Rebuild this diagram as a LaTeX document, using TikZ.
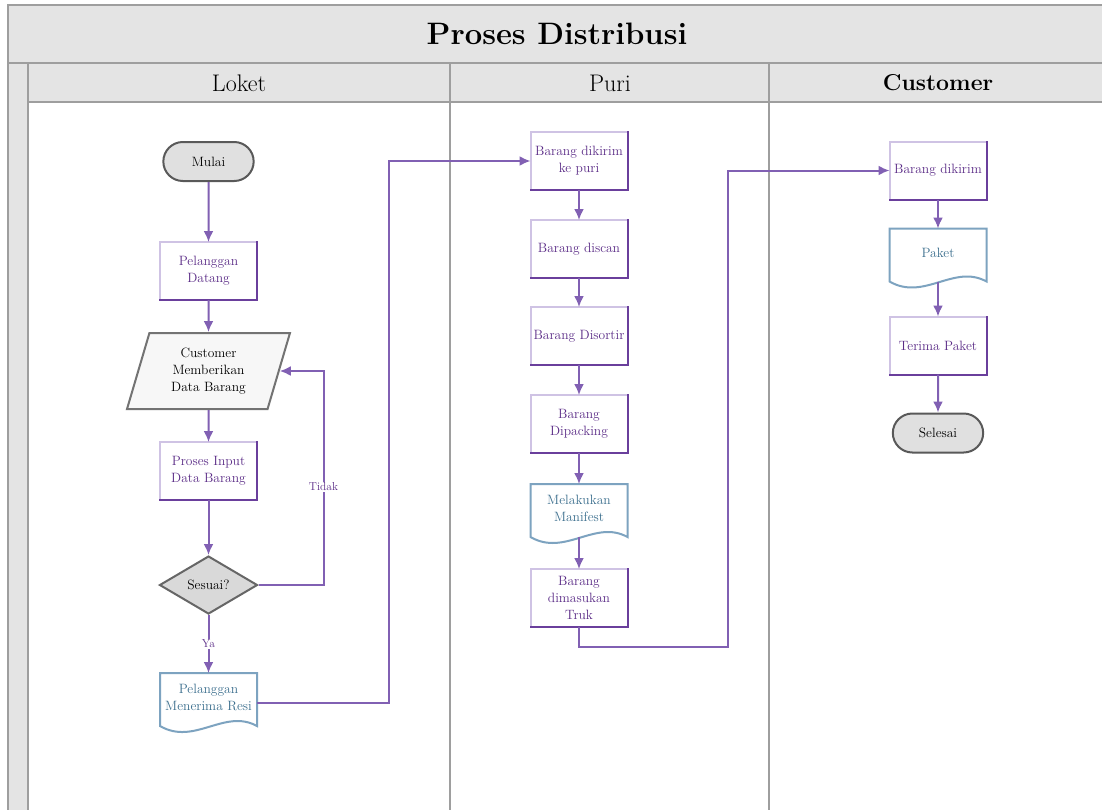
\documentclass[tikz,border=0pt]{standalone}
\usepackage{fontspec}
\usepackage{tikz}
\usetikzlibrary{positioning, arrows.meta, shapes.geometric, shapes.misc, calc}

\definecolor{lanegray}{HTML}{E4E4E4}
\definecolor{laneline}{HTML}{9E9E9E}
\definecolor{flowline}{HTML}{8160B3}
\definecolor{proctext}{HTML}{5B2C87}
\definecolor{proclight}{HTML}{CFC3E4}
\definecolor{procdark}{HTML}{6A3F9C}
\definecolor{doctext}{HTML}{3C6F8E}
\definecolor{docline}{HTML}{7DA3C0}

% outline of a document node (wavy bottom)
\newcommand{\docwave}[1]{%
  \draw[docedge] (#1.north west) -- (#1.north east) -- ($(#1.south east)+(0,5)$)
    .. controls ($(#1.south)+(16,-13)$) and ($(#1.south)+(-14,25)$) .. ($(#1.south west)+(0,5)$) -- cycle;}

\begin{document}
\begin{tikzpicture}[x=1pt, y=-1pt,
  lanehead/.style={draw=laneline, fill=lanegray, line width=1.6pt},
  boxfont/.style={font=\fontsize{13.5}{17}\selectfont},
  proc/.style={boxfont, draw=proclight, fill=white, line width=2pt, outer sep=0pt,
    minimum width=97pt, minimum height=58pt, align=center, text=proctext, inner sep=1pt,
    append after command={(\tikzlastnode.north east) edge[draw=procdark, line width=2pt, line cap=rect] (\tikzlastnode.south east)
      (\tikzlastnode.south west) edge[draw=procdark, line width=2pt, line cap=rect] (\tikzlastnode.south east)}},
  term/.style={boxfont, rounded rectangle, draw=black!65, fill=black!12, line width=2pt, minimum width=97pt, minimum height=39pt},
  decide/.style={boxfont, diamond, draw=black!60, fill=black!15, line width=2pt, minimum width=98pt, minimum height=58pt, inner sep=0pt},
  datain/.style={boxfont, trapezium, trapezium left angle=73, trapezium right angle=107, trapezium stretches=true, draw=black!55, fill=black!3, line width=2pt, minimum width=163pt, minimum height=76pt, align=center, inner sep=0pt},
  doc/.style={boxfont, minimum width=97pt, minimum height=48pt, align=center, text=doctext, inner sep=1pt, outer sep=0pt},
  docedge/.style={draw=docline, line width=2pt},
  arrow/.style={-{Latex[length=11pt,width=10pt]}, draw=flowline, line width=2pt},
  tag/.style={fill=white, text=proctext, font=\fontsize{11.5}{13}\selectfont, inner sep=1pt},
  lanetitle/.style={font=\fontsize{24}{27}\selectfont}
]
  \fill[white] (0,0) rectangle (1102,809);
  \useasboundingbox (0,0) rectangle (1102,809);

  % swimlanes
  \draw[lanehead] (8,5) rectangle (1112,63);
  \node[font=\bfseries\fontsize{31}{34}\selectfont] (title) at (557,34) {Proses Distribusi};
  \draw[lanehead] (8,63) rectangle (28,815);
  \draw[lanehead] (28,63) rectangle (450,102);
  \draw[lanehead] (450,63) rectangle (769,102);
  \draw[lanehead] (769,63) rectangle (1112,102);
  \draw[laneline, line width=1.6pt] (450,102) -- (450,815);
  \draw[laneline, line width=1.6pt] (769,102) -- (769,815);
  \node[lanetitle] (loket) at (239,83) {Loket};
  \node[lanetitle] (puri) at (610,83) {Puri};
  \node[lanetitle, font=\bfseries\fontsize{23}{26}\selectfont] (customer) at (938,83) {Customer};

  % Loket
  \node[term] (mulai) at (208.5,161.5) {Mulai};
  \node[proc, below=60pt of mulai] (datang) {Pelanggan\\Datang};
  \node[datain, below=32pt of datang] (memberi) {Customer\\Memberikan\\Data Barang};
  \node[proc, below=32pt of memberi] (input) {Proses Input\\Data Barang};
  \node[decide, below=55pt of input] (sesuai) {Sesuai?};
  \node[doc, below=58pt of sesuai] (resi) {Pelanggan\\Menerima Resi};
  \docwave{resi}

  % Puri
  \node[proc] (kirimpuri) at (579,161) {Barang dikirim\\ke puri};
  \node[proc, below=30pt of kirimpuri] (discan) {Barang discan};
  \node[proc, below=29pt of discan] (disortir) {Barang Disortir};
  \node[proc, below=30pt of disortir] (dipacking) {Barang\\Dipacking};
  \node[doc, below=31pt of dipacking] (manifest) {Melakukan\\Manifest};
  \docwave{manifest}
  \node[proc, below=37pt of manifest] (truk) {Barang\\dimasukan\\Truk};

  % Customer
  \node[proc] (dikirim) at (938,170.5) {Barang dikirim};
  \node[doc, below=29pt of dikirim] (paket) {Paket};
  \docwave{paket}
  \node[proc, below=40pt of paket] (terima) {Terima Paket};
  \node[term, below=38pt of terima] (selesai) {Selesai};

  % alur
  \draw[arrow] (mulai) -- (datang);
  \draw[arrow] (datang) -- (memberi);
  \draw[arrow] (memberi) -- (input);
  \draw[arrow] (input) -- (sesuai);
  \draw[arrow] (sesuai) -- node[tag]{Ya} (resi);
  \draw[arrow] (sesuai.east) -- ++(65,0) |- node[tag, pos=0.23]{Tidak} (memberi.east);
  \draw[arrow] ([yshift=-6pt]resi.east) -- ++(132,0) |- (kirimpuri.west);
  \draw[arrow] (kirimpuri) -- (discan);
  \draw[arrow] (discan) -- (disortir);
  \draw[arrow] (disortir) -- (dipacking);
  \draw[arrow] (dipacking) -- (manifest);
  \draw[arrow] ([yshift=-5pt]manifest.south) -- (truk);
  \draw[arrow] (truk.south) |- ++(149,20) |- (dikirim.west);
  \draw[arrow] (dikirim) -- (paket);
  \draw[arrow] ([yshift=-5pt]paket.south) -- (terima);
  \draw[arrow] (terima) -- (selesai);
\end{tikzpicture}
\end{document}
